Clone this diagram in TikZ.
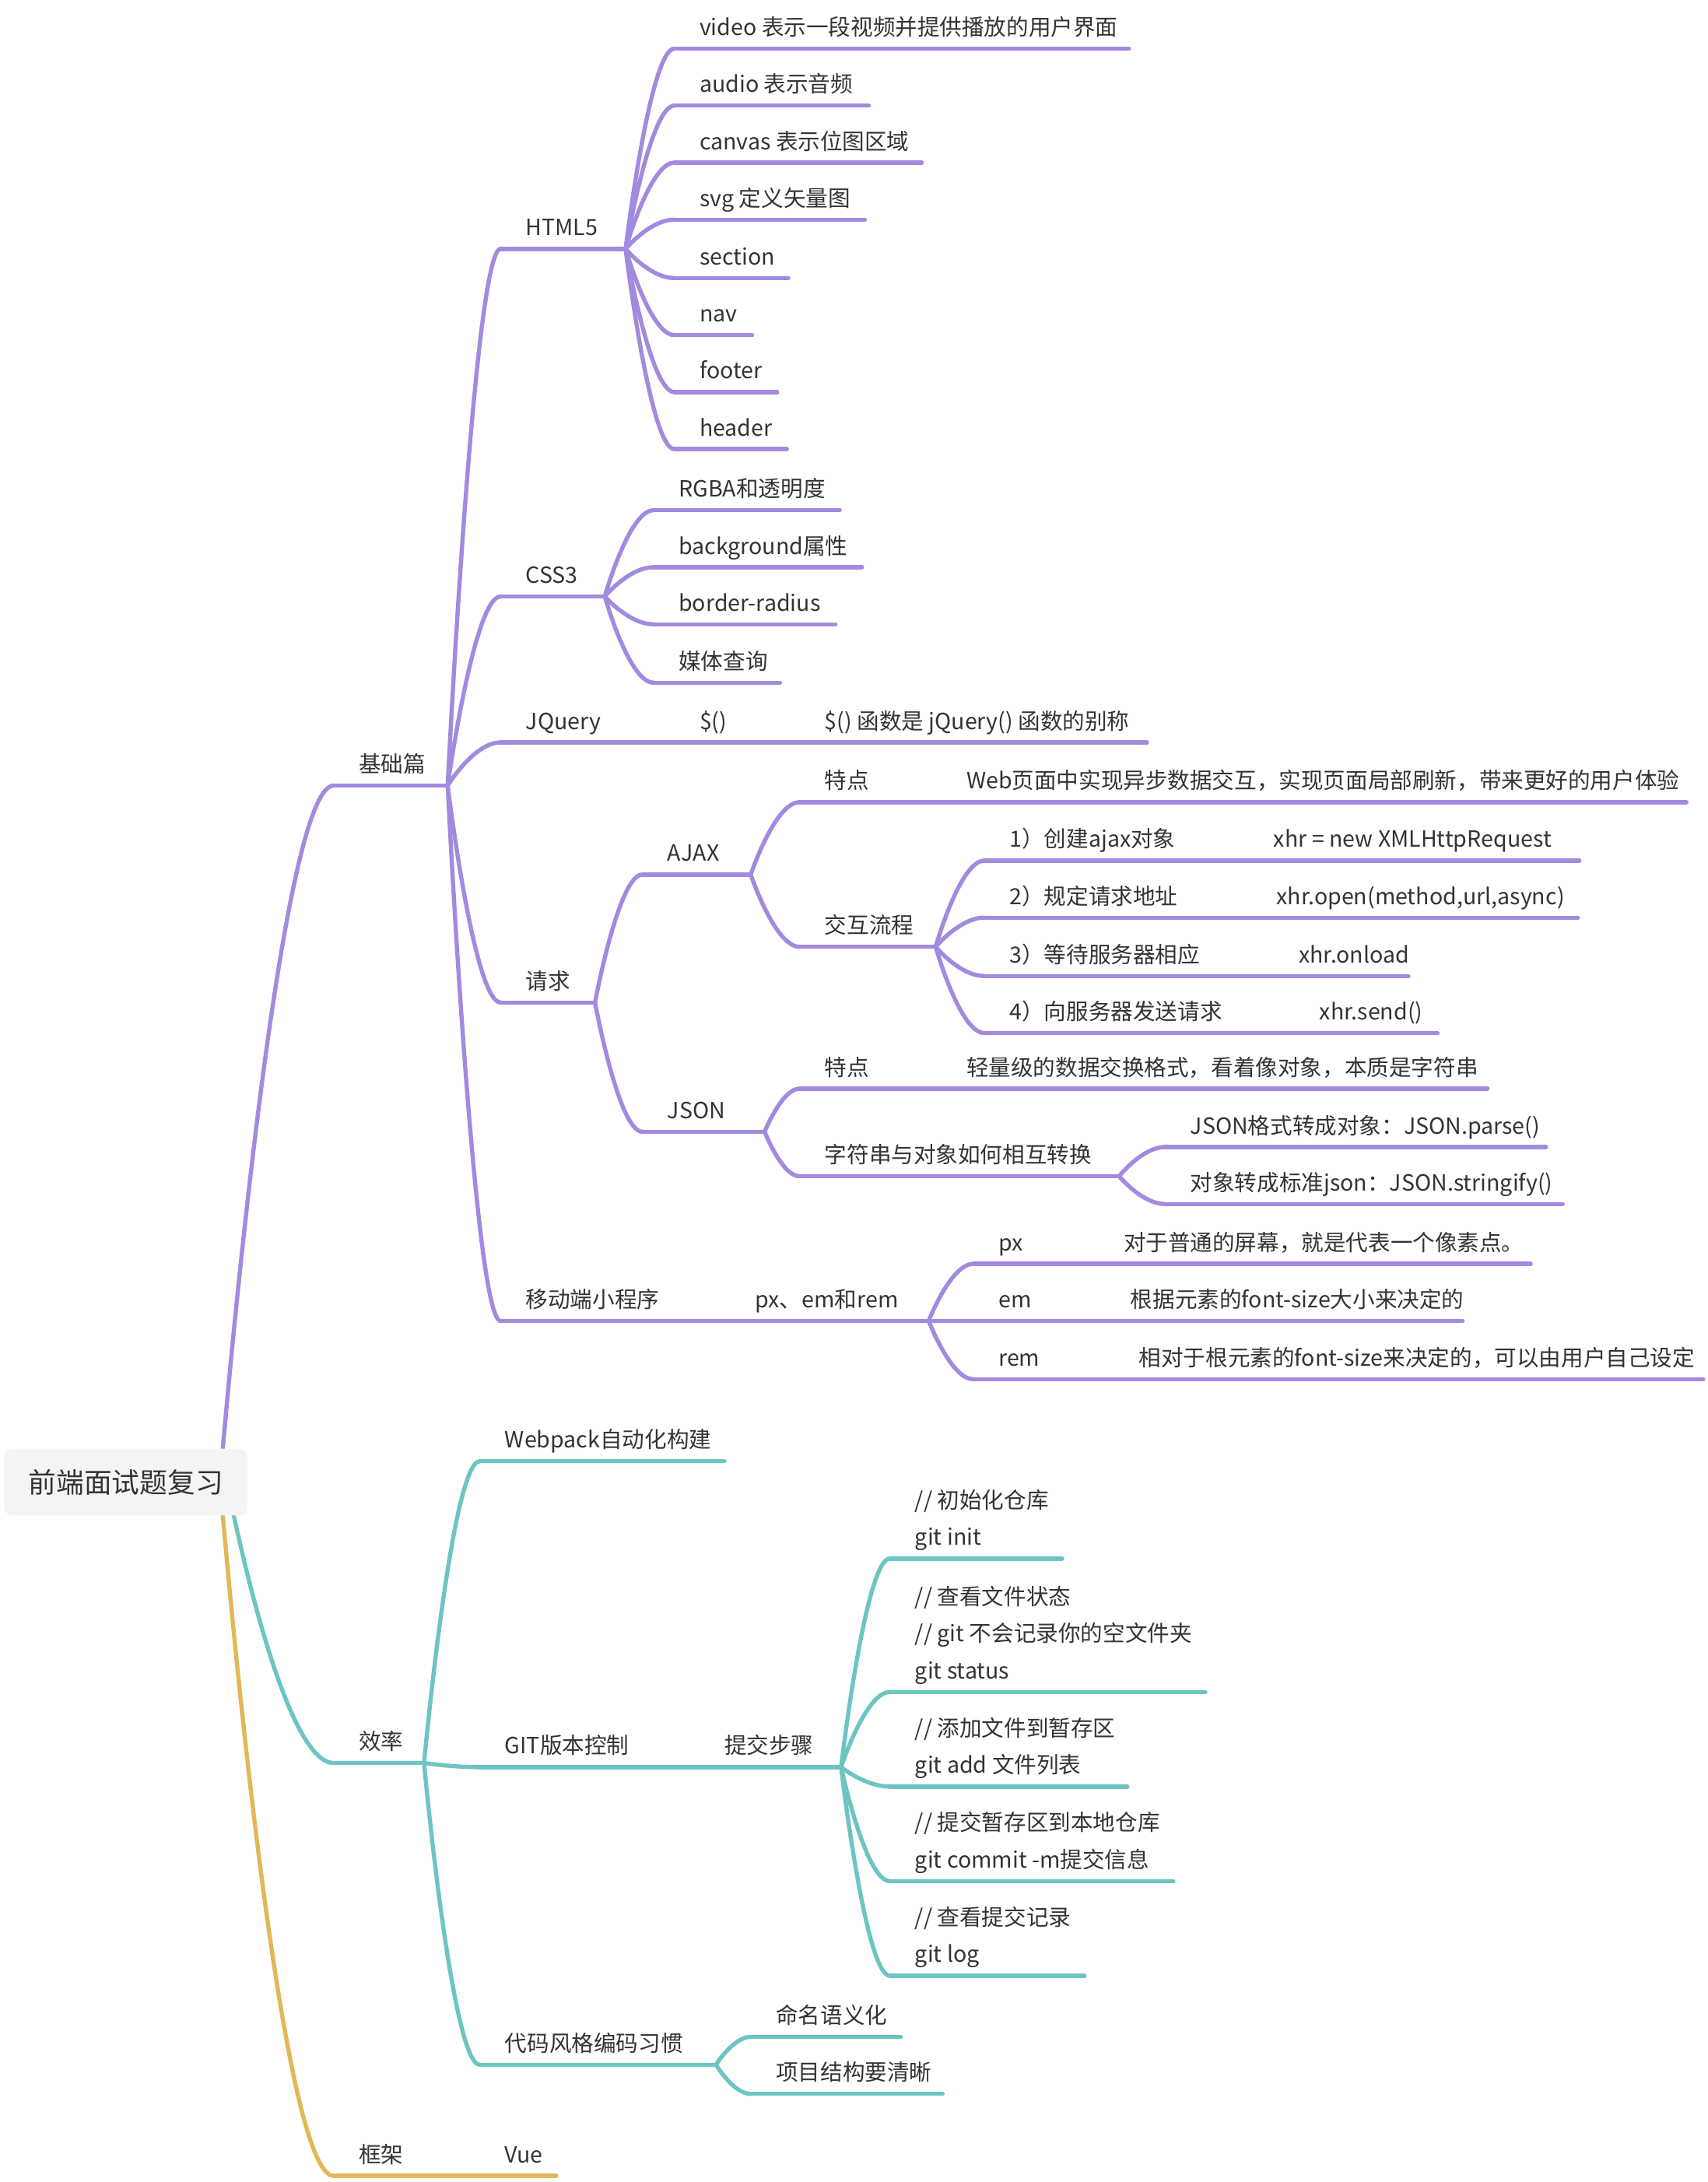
\documentclass[tikz,border=0pt]{standalone}
\usepackage{fontspec}
\setmainfont{Noto Sans CJK SC}
\usetikzlibrary{calc,backgrounds}
\definecolor{pur}{HTML}{A28ADF}
\definecolor{tea}{HTML}{6DC5C3}
\definecolor{gld}{HTML}{E2B857}
\definecolor{txtc}{HTML}{333333}
\definecolor{rootfill}{HTML}{F4F4F4}
\newcommand\mlines[1]{\begin{tabular}[b]{@{}l@{}}#1\end{tabular}}
% name, colour, start x, end x, underline y, text
\newcommand\tpc[6]{%
  \coordinate (#1-s) at (#3,#5);
  \coordinate (#1-e) at (#4,#5);
  \draw[#2,ln] (#1-s) -- (#1-e);
  \node[txt] (#1) at (#3+18,#5-9.5) {#6};}
% colour, from, to
\newcommand\cnc[3]{%
  \draw[#1,ln] let \p1=(#2), \p2=(#3) in (\p1) .. controls (\p1) and ({0.5*\x1+0.5*\x2},\y2) .. (\p2);}
\begin{document}
\begin{tikzpicture}[x=1pt,y=-1pt,
  ln/.style={line width=3pt,line cap=round},
  txt/.style={anchor=base west,inner sep=0pt,text=txtc,font=\fontsize{16}{26.7}\selectfont},
  rootbox/.style={fill=rootfill,rounded corners=6pt,minimum width=175pt,minimum height=48pt,inner sep=0pt,text=txtc,font=\fontsize{20}{24}\selectfont}]
\useasboundingbox (0,0) rectangle (1228,1569.4);

\node[rootbox] (root) at (90.5,1066) {前端面试题复习};
\coordinate (rp) at ($(root.east)+(-20,0)$);
\coordinate (rt) at ($(root.east)+(-15,0)$);
\coordinate (rg) at ($(root.east)+(-20,0)$);

% ---------- purple: 基础篇 ----------
\tpc{jc}{pur}{240}{322}{565}{基础篇}
\tpc{h5}{pur}{360}{450}{179}{HTML5}
\tpc{ha}{pur}{485}{812}{35}{video 表示一段视频并提供播放的用户界面}
\tpc{hb}{pur}{485}{625}{76}{audio 表示音频}
\tpc{hc}{pur}{485}{663}{117}{canvas 表示位图区域}
\tpc{hd}{pur}{485}{622}{158}{svg 定义矢量图}
\tpc{he}{pur}{485}{567}{200}{section}
\tpc{hf}{pur}{485}{541}{241}{nav}
\tpc{hg}{pur}{485}{559}{282}{footer}
\tpc{hh}{pur}{485}{566}{323}{header}
\foreach \k in {ha,hb,hc,hd,he,hf,hg,hh}{\cnc{pur}{h5-e}{\k-s}}

\tpc{c3}{pur}{360}{435}{429}{CSS3}
\tpc{ca}{pur}{470}{604}{367}{RGBA和透明度}
\tpc{cb}{pur}{470}{620}{408}{background属性}
\tpc{cc}{pur}{470}{601}{449}{border-radius}
\tpc{cd}{pur}{470}{561}{491}{媒体查询}
\foreach \k in {ca,cb,cc,cd}{\cnc{pur}{c3-e}{\k-s}}

\tpc{jq}{pur}{360}{485}{534}{JQuery}
\tpc{jqb}{pur}{485}{575}{534}{\$()}
\tpc{jqc}{pur}{575}{825}{534}{\$() 函数是 jQuery() 函数的别称}

\tpc{qq}{pur}{360}{428}{721}{请求}
\tpc{ajax}{pur}{462}{540}{629}{AJAX}
\tpc{json}{pur}{462}{550}{814}{JSON}
\cnc{pur}{qq-e}{ajax-s}
\cnc{pur}{qq-e}{json-s}

\tpc{aa}{pur}{575}{677}{577}{特点}
\tpc{aab}{pur}{677}{1213}{577}{Web页面中实现异步数据交互，实现页面局部刷新，带来更好的用户体验}
\tpc{ab}{pur}{575}{673}{681}{交互流程}
\cnc{pur}{ajax-e}{aa-s}
\cnc{pur}{ajax-e}{ab-s}

\tpc{sa}{pur}{708}{898}{619}{1）创建ajax对象}
\tpc{sab}{pur}{898}{1136}{619}{xhr = new XMLHttpRequest}
\tpc{sb}{pur}{708}{900}{660}{2）规定请求地址}
\tpc{sbb}{pur}{900}{1135}{660}{xhr.open(method,url,async)}
\tpc{sc}{pur}{708}{916}{702}{3）等待服务器相应}
\tpc{scb}{pur}{916}{1013}{702}{xhr.onload}
\tpc{sd}{pur}{708}{931}{743}{4）向服务器发送请求}
\tpc{sdb}{pur}{931}{1034}{743}{xhr.send()}
\foreach \k in {sa,sb,sc,sd}{\cnc{pur}{ab-e}{\k-s}}

\tpc{ja}{pur}{575}{677}{783}{特点}
\tpc{jab}{pur}{677}{1070}{783}{轻量级的数据交换格式，看着像对象，本质是字符串}
\tpc{jb}{pur}{575}{805}{846}{字符串与对象如何相互转换}
\cnc{pur}{json-e}{ja-s}
\cnc{pur}{json-e}{jb-s}
\tpc{ka}{pur}{838}{1112}{825}{JSON格式转成对象：JSON.parse()}
\tpc{kb}{pur}{838}{1124}{866}{对象转成标准json：JSON.stringify()}
\cnc{pur}{jb-e}{ka-s}
\cnc{pur}{jb-e}{kb-s}

\tpc{mm}{pur}{360}{525}{950}{移动端小程序}
\tpc{mmb}{pur}{525}{668}{950}{px、em和rem}
\tpc{pa}{pur}{700}{790}{909}{px}
\tpc{pab}{pur}{790}{1101}{909}{对于普通的屏幕，就是代表一个像素点。}
\tpc{pb}{pur}{700}{795}{950}{em}
\tpc{pbb}{pur}{795}{1052}{950}{根据元素的font-size大小来决定的}
\tpc{pc}{pur}{700}{801}{992}{rem}
\tpc{pcb}{pur}{801}{1225}{992}{相对于根元素的font-size来决定的，可以由用户自己设定}
\foreach \k in {pa,pb,pc}{\cnc{pur}{mmb-e}{\k-s}}

\foreach \k in {h5,c3,jq,qq,mm}{\cnc{pur}{jc-e}{\k-s}}

% ---------- teal: 效率 ----------
\tpc{xl}{tea}{240}{305}{1268}{效率}
\tpc{wp}{tea}{345}{521}{1051}{Webpack自动化构建}
\tpc{gt}{tea}{345}{503}{1271}{GIT版本控制}
\tpc{gtb}{tea}{503}{605}{1271}{提交步骤}
\tpc{ga}{tea}{640}{764}{1121}{\mlines{// 初始化仓库\\git init}}
\tpc{gb}{tea}{640}{867}{1217}{\mlines{// 查看文件状态\\// git 不会记录你的空文件夹\\git status}}
\tpc{gc}{tea}{640}{811}{1285}{\mlines{// 添加文件到暂存区\\git add 文件列表}}
\tpc{gd}{tea}{640}{844}{1353}{\mlines{// 提交暂存区到本地仓库\\git commit -m提交信息}}
\tpc{ge}{tea}{640}{780}{1421}{\mlines{// 查看提交记录\\git log}}
\foreach \k in {ga,gb,gc,gd,ge}{\cnc{tea}{gtb-e}{\k-s}}
\tpc{dm}{tea}{345}{515}{1485}{代码风格编码习惯}
\tpc{da}{tea}{540}{648}{1465}{命名语义化}
\tpc{db}{tea}{540}{678}{1506}{项目结构要清晰}
\cnc{tea}{dm-e}{da-s}
\cnc{tea}{dm-e}{db-s}
\foreach \k in {wp,gt,dm}{\cnc{tea}{xl-e}{\k-s}}

% ---------- gold: 框架 ----------
\tpc{kj}{gld}{240}{345}{1565}{框架}
\tpc{vue}{gld}{345}{400}{1565}{Vue}

\begin{scope}[on background layer]
\fill[white] (0,0) rectangle (1228,1569.4);
\cnc{pur}{rp}{jc-s}
\cnc{tea}{rt}{xl-s}
\cnc{gld}{rg}{kj-s}
\end{scope}
\end{tikzpicture}
\end{document}
